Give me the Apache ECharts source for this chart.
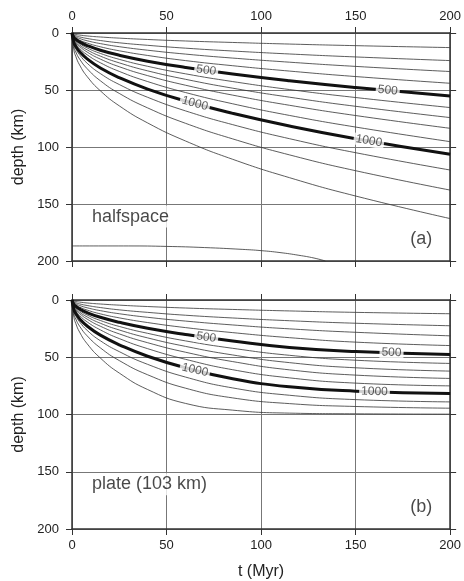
<!DOCTYPE html>
<html><head><meta charset="utf-8">
<script src="https://cdn.jsdelivr.net/npm/echarts@6/dist/echarts.min.js"></script>
<style>html,body{margin:0;padding:0;background:#fff}#c{width:464px;height:581px}</style>
</head><body><div id="c"></div>
<script>
// time samples (Myr)
const tSamp = [0, 1, 2, 4, 8, 15, 25, 40, 60, 85, 115, 150, 200];
// axis ticks
const xTicks = [0, 50, 100, 150, 200];
const yTicks = [0, 50, 100, 150, 200];
// (a) halfspace isotherm depths (km), 100..1300 °C
const hs100  = [0, 0.9, 1.3, 1.8, 2.6, 3.5, 4.5, 5.7, 7.0, 8.3, 9.7, 11.1, 12.8];
const hs200  = [0, 1.7, 2.4, 3.4, 4.8, 6.6, 8.6, 10.8, 13.3, 15.8, 18.4, 21.0, 24.2];
const hs300  = [0, 2.4, 3.4, 4.8, 6.8, 9.3, 12.0, 15.1, 18.5, 22.0, 25.6, 29.3, 33.8];
const hs400  = [0, 3.1, 4.4, 6.2, 8.8, 12.1, 15.6, 19.7, 24.2, 28.7, 33.4, 38.2, 44.1];
const hs500  = [0, 3.9, 5.5, 7.8, 11.0, 15.1, 19.5, 24.7, 30.2, 36.0, 41.9, 47.8, 55.2];
const hs600  = [0, 4.6, 6.5, 9.2, 13.1, 17.9, 23.1, 29.2, 35.8, 42.6, 49.6, 56.6, 65.4];
const hs700  = [0, 5.2, 7.4, 10.5, 14.8, 20.3, 26.2, 33.2, 40.6, 48.4, 56.3, 64.3, 74.2];
const hs800  = [0, 5.9, 8.4, 11.8, 16.7, 22.9, 29.6, 37.4, 45.8, 54.5, 63.4, 72.4, 83.6];
const hs900  = [0, 6.7, 9.5, 13.5, 19.1, 26.1, 33.7, 42.6, 52.2, 62.1, 72.3, 82.5, 95.3];
const hs1000 = [0, 8.4, 11.7, 16.3, 22.7, 30.7, 39.2, 49.2, 59.7, 70.5, 81.6, 92.7, 106.4];
const hs1100 = [0, 10.0, 13.8, 19.1, 26.5, 35.6, 45.2, 56.4, 68.3, 80.4, 92.7, 105.0, 120.2];
const hs1200 = [0, 12.0, 16.6, 22.8, 31.3, 41.9, 53.0, 65.7, 79.2, 92.9, 106.9, 120.8, 137.8];
const hs1300 = [0, 15.0, 20.5, 28.0, 38.2, 50.7, 63.9, 78.9, 94.7, 110.8, 126.9, 143.0, 162.8];
// deep isotherm in (a)
const tDeep  = [0, 30, 50, 70, 90, 100, 110, 120, 128, 134];
const hsDeep = [186.8, 186.8, 187.2, 188.2, 189.8, 190.9, 192.6, 195.0, 197.4, 200];
// (b) plate (103 km) isotherm depths (km)
const pl100  = [0, 0.9, 1.3, 1.8, 2.6, 3.5, 4.5, 5.7, 7.0, 8.25, 9.55, 10.8, 12.0];
const pl200  = [0, 1.7, 2.4, 3.4, 4.8, 6.6, 8.6, 10.8, 13.3, 15.7, 18.1, 20.3, 22.5];
const pl300  = [0, 2.4, 3.4, 4.8, 6.8, 9.3, 12.0, 15.1, 18.4, 21.8, 25.2, 28.2, 31.3];
const pl400  = [0, 3.1, 4.4, 6.2, 8.8, 12.1, 15.6, 19.7, 24.1, 28.5, 32.9, 36.8, 39.8];
const pl500  = [0, 3.9, 5.5, 7.8, 11.0, 15.1, 19.5, 24.7, 30.1, 35.8, 41.4, 45.0, 47.5];
const pl600  = [0, 4.6, 6.5, 9.2, 13.1, 17.9, 23.1, 29.1, 35.7, 42.2, 48.3, 52.6, 55.4];
const pl700  = [0, 5.2, 7.4, 10.5, 14.8, 20.3, 26.2, 33.1, 40.5, 48.0, 54.7, 59.2, 62.1];
const pl800  = [0, 5.9, 8.4, 11.8, 16.7, 22.9, 29.6, 37.3, 45.6, 53.8, 61.0, 65.6, 68.5];
const pl900  = [0, 6.7, 9.5, 13.5, 19.1, 26.1, 33.7, 42.5, 51.8, 60.9, 68.0, 72.6, 75.0];
const pl1000 = [0, 8.4, 11.7, 16.3, 22.7, 30.7, 39.1, 49.1, 59.2, 68.8, 75.8, 79.6, 81.7];
const pl1100 = [0, 10.0, 13.8, 19.1, 26.5, 35.6, 45.1, 56.2, 67.3, 76.8, 83.2, 87.0, 89.0];
const pl1200 = [0, 12.0, 16.6, 22.8, 31.3, 41.8, 52.9, 65.3, 77.0, 85.5, 90.5, 93.0, 94.5];
const pl1300 = [0, 15.0, 20.5, 28.0, 38.2, 50.7, 63.8, 78.2, 90.3, 96.2, 98.8, 99.4, 99.7];
// contour label times
const labT500a = [71, 167], labT1000a = [65, 157];
const labT500b = [71, 169], labT1000b = [65, 160];

const FONT = 'Liberation Sans, Arial, Helvetica, sans-serif';
const thinA = [hs100, hs200, hs300, hs400, hs600, hs700, hs800, hs900, hs1100, hs1200, hs1300];
const thinB = [pl100, pl200, pl300, pl400, pl600, pl700, pl800, pl900, pl1100, pl1200, pl1300];

function zip(ts, ds) { return ts.map((t, i) => [t, ds[i]]); }
function interp(ts, ds, q) {
  for (let i = 1; i < ts.length; i++) {
    if (q <= ts[i]) { const f = (q - ts[i-1]) / (ts[i] - ts[i-1]); return ds[i-1] + f * (ds[i] - ds[i-1]); }
  }
  return ds[ds.length - 1];
}
function lineSeries(ts, ds, g, thick) {
  return { type: 'line', xAxisIndex: g * 2, yAxisIndex: g * 2, data: zip(ts, ds), showSymbol: false,
    smooth: 0.5, silent: true, animation: false, clip: true,
    lineStyle: { color: thick ? '#111' : '#333', width: thick ? 3 : 0.8 }, z: thick ? 3 : 2 };
}
function xAx(g, pos, labels, name) {
  return { type: 'value', gridIndex: g, position: pos, min: 0, max: 200, interval: 50,
    axisLine: { show: true, onZero: false, lineStyle: { color: '#333', width: 1.5 } },
    axisTick: { show: true, inside: false, length: 6, lineStyle: { color: '#333', width: 1 } },
    axisLabel: { show: labels, fontSize: 13, color: '#222', fontFamily: FONT, margin: 10 },
    splitLine: { show: labels, lineStyle: { color: '#777', width: 1 } },
    name: name || '', nameLocation: 'middle', nameGap: 35,
    nameTextStyle: { fontSize: 16, color: '#222', fontFamily: FONT } };
}
function yAx(g, pos, labels) {
  return { type: 'value', gridIndex: g, position: pos, inverse: true, min: 0, max: 200, interval: 50,
    axisLine: { show: true, onZero: false, lineStyle: { color: '#333', width: 1.5 } },
    axisTick: { show: true, inside: false, length: 6, lineStyle: { color: '#333', width: 1 } },
    axisLabel: { show: labels, fontSize: 13, color: '#222', fontFamily: FONT, margin: 13 },
    splitLine: { show: labels, lineStyle: { color: '#777', width: 1 } },
    name: labels ? 'depth (km)' : '', nameLocation: 'middle', nameGap: 44, nameRotate: 90,
    nameTextStyle: { fontSize: 16, color: '#222', fontFamily: FONT } };
}
function textPoint(g, t, d, text, pos, size) {
  return { type: 'scatter', xAxisIndex: g * 2, yAxisIndex: g * 2, symbolSize: 0, silent: true, animation: false, z: 10,
    data: [[t, d]],
    label: { show: true, position: pos, distance: 0, formatter: text, fontSize: size, color: '#1a1a1a', fontFamily: FONT,
      backgroundColor: '#fff', padding: [2, 1] } };
}

const series = [];
thinA.forEach(d => series.push(lineSeries(tSamp, d, 0, false)));
series.push(lineSeries(tDeep, hsDeep, 0, false));
series.push(lineSeries(tSamp, hs500, 0, true));
series.push(lineSeries(tSamp, hs1000, 0, true));
thinB.forEach(d => series.push(lineSeries(tSamp, d, 1, false)));
series.push(lineSeries(tSamp, pl500, 1, true));
series.push(lineSeries(tSamp, pl1000, 1, true));
series.push(textPoint(0, 10, 161, 'halfspace', 'right', 18));
series.push(textPoint(1, 10, 161, 'plate (103 km)', 'right', 18));
series.push(textPoint(0, 191, 181, '(a)', 'left', 18));
series.push(textPoint(1, 191, 181, '(b)', 'left', 18));

const chart = echarts.init(document.getElementById('c'), null, { renderer: 'canvas' });
const option = {
  backgroundColor: '#fff', animation: false,
  grid: [
    { left: 72, top: 33, width: 380, height: 228 },
    { left: 72, top: 300, width: 380, height: 229 }
  ],
  xAxis: [xAx(0, 'top', true), xAx(0, 'bottom', false), xAx(1, 'bottom', true, 't (Myr)'), xAx(1, 'top', false)],
  yAxis: [yAx(0, 'left', true), yAx(0, 'right', false), yAx(1, 'left', true), yAx(1, 'right', false)],
  series: series
};
chart.setOption(option);

// contour labels placed on the thick isotherms
function contourLabels(g, ts, ds, times, text) {
  return times.map(q => {
    const d = interp(ts, ds, q);
    const p1 = chart.convertToPixel({ gridIndex: g }, [q - 4, interp(ts, ds, q - 4)]);
    const p2 = chart.convertToPixel({ gridIndex: g }, [q + 4, interp(ts, ds, q + 4)]);
    const ang = -Math.atan2(p2[1] - p1[1], p2[0] - p1[0]) * 180 / Math.PI;
    return { type: 'scatter', xAxisIndex: g * 2, yAxisIndex: g * 2, symbolSize: 0, silent: true, animation: false, z: 9,
      data: [[q, d]],
      label: { show: true, position: 'inside', formatter: text, rotate: ang, fontSize: 12, color: '#333', fontFamily: FONT,
        backgroundColor: '#fff', padding: [0, 2] } };
  });
}
const extra = [].concat(
  contourLabels(0, tSamp, hs500, labT500a, '500'),
  contourLabels(0, tSamp, hs1000, labT1000a, '1000'),
  contourLabels(1, tSamp, pl500, labT500b, '500'),
  contourLabels(1, tSamp, pl1000, labT1000b, '1000')
);
chart.setOption({ series: series.concat(extra) });
</script></body></html>
